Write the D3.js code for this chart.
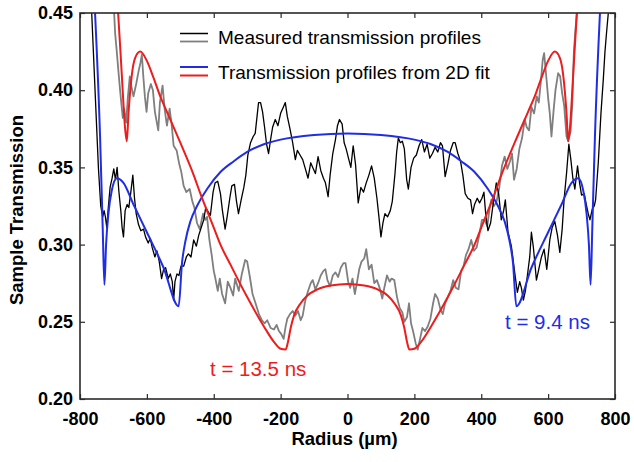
<!DOCTYPE html>
<html>
<head>
<meta charset="utf-8">
<script src="https://cdn.jsdelivr.net/npm/d3@7"></script>
<style>
  html, body { margin: 0; padding: 0; background: #fff; }
  svg { display: block; }
  text { font-family: "Liberation Sans", Arial, Helvetica, sans-serif; }
</style>
</head>
<body>
<svg id="chart" width="634" height="462"></svg>
<script>
// ---------------- DATA ----------------
const xTicks = [-800, -600, -400, -200, 0, 200, 400, 600, 800];
const yTicks = [0.20, 0.25, 0.30, 0.35, 0.40, 0.45];

// Fit, t = 13.5 ns (red)
const fitRedX = [-705,-686,-675,-665,-660,-655,-645,-635,-620,-600,-580,-560,-540,-500,-460,-440,-400,-380,-350,-300,-250,-220,-200,-185,-178,-170,-160,-140,-120,-90,-50,0,
                 50,90,120,140,160,170,178,185,200,220,250,300,350,380,400,440,460,500,540,560,580,600,620,635,645,655,660,665,675,686,705];
const fitRedY = [0.49,0.45,0.41,0.375,0.367,0.385,0.410,0.421,0.425,0.419,0.408,0.396,0.386,0.366,0.345,0.333,0.311,0.300,0.287,0.266,0.247,0.237,0.2325,0.232,0.237,0.246,0.254,0.262,0.267,0.271,0.2735,0.2745,
                 0.2735,0.271,0.267,0.262,0.254,0.246,0.237,0.232,0.2325,0.237,0.247,0.266,0.287,0.300,0.311,0.333,0.345,0.366,0.386,0.396,0.408,0.419,0.425,0.421,0.410,0.385,0.367,0.375,0.41,0.45,0.49];

// Fit, t = 9.4 ns (blue)
const fitBlueX = [-775,-755,-740,-732,-727,-722,-715,-705,-690,-670,-640,-600,-550,-505,-495,-485,-470,-450,-420,-380,-340,-300,-250,-200,-100,0,
                  100,200,250,300,340,380,420,450,470,485,495,505,550,600,640,670,690,705,715,722,727,732,740,755,775];
const fitBlueY = [0.52,0.45,0.37,0.31,0.274,0.30,0.320,0.335,0.343,0.340,0.326,0.308,0.285,0.260,0.288,0.302,0.315,0.325,0.336,0.347,0.354,0.360,0.365,0.368,0.371,0.372,
                  0.371,0.368,0.365,0.360,0.354,0.347,0.336,0.325,0.315,0.302,0.288,0.260,0.285,0.308,0.326,0.340,0.343,0.335,0.320,0.30,0.274,0.31,0.37,0.45,0.52];

// Measured profile, t = 13.5 ns (gray)
const measGrayX = [-700,-695,-690,-683,-678,-672,-668,-662,-657,-651,-646,-640,-632,-625,-619,-615,-611,-606,-601,-596,-588,-582,-576,-566,-561,-553,-547,-540,-532,-526,-520,-511,-503,-497,-490,-482,-472,-464,-458,-450,-442,-432,-425,-420,-413,-406,-400,-396,-388,-382,-375,-366,-358,-350,-342,-336,-325,-316,-306,-300,-292,-284,-275,-265,-256,-248,-240,-230,-220,-212,-205,-198,-191,-185,-180,-172,-164,-156,-148,-140,-134,-126,-118,-110,-104,-96,-88,-80,-72,-66,-60,-52,-44,-36,-28,-20,-12,-6,
                    2,8,15,22,28,35,42,50,56,64,72,80,88,96,104,110,118,126,132,140,148,156,164,170,178,184,190,196,204,210,216,224,232,240,248,256,262,270,278,285,292,300,308,316,324,332,340,347,354,362,370,378,386,394,402,410,418,424,430,438,446,454,462,470,478,486,492,498,506,514,522,530,536,543,550,558,566,572,578,584,588,594,600,605,610,616,622,630,636,642,648,655,660,667,672,677,682,688];
const measGrayY = [0.46,0.437,0.425,0.407,0.395,0.382,0.388,0.379,0.395,0.409,0.402,0.396,0.404,0.412,0.418,0.423,0.410,0.396,0.386,0.398,0.404,0.400,0.386,0.374,0.392,0.403,0.388,0.377,0.388,0.378,0.364,0.361,0.352,0.347,0.338,0.334,0.336,0.328,0.324,0.314,0.310,0.320,0.316,0.318,0.303,0.293,0.283,0.279,0.270,0.278,0.268,0.262,0.276,0.272,0.267,0.278,0.270,0.281,0.290,0.289,0.279,0.268,0.262,0.255,0.251,0.249,0.251,0.246,0.245,0.248,0.244,0.242,0.239,0.247,0.252,0.255,0.257,0.254,0.257,0.251,0.254,0.264,0.270,0.275,0.277,0.271,0.275,0.280,0.283,0.284,0.277,0.273,0.280,0.282,0.279,0.285,0.288,0.288,
                    0.276,0.272,0.278,0.268,0.275,0.284,0.289,0.291,0.297,0.284,0.287,0.275,0.277,0.272,0.265,0.272,0.280,0.276,0.278,0.277,0.266,0.259,0.256,0.250,0.253,0.262,0.249,0.244,0.236,0.232,0.238,0.246,0.244,0.247,0.252,0.262,0.268,0.265,0.258,0.255,0.262,0.266,0.270,0.277,0.272,0.271,0.283,0.286,0.293,0.297,0.303,0.296,0.298,0.306,0.316,0.316,0.312,0.322,0.329,0.325,0.328,0.337,0.351,0.357,0.349,0.354,0.359,0.342,0.349,0.362,0.369,0.381,0.376,0.374,0.389,0.385,0.396,0.392,0.405,0.420,0.424,0.410,0.395,0.385,0.370,0.386,0.400,0.411,0.409,0.398,0.390,0.370,0.367,0.373,0.390,0.425,0.440,0.455];

// Measured profile, t = 9.4 ns (black)
const measBlackX = [-775,-765,-755,-745,-738,-732,-728,-724,-720,-715,-710,-704,-699,-694,-689,-684,-678,-674,-670,-665,-659,-654,-648,-642,-637,-632,-625,-618,-610,-604,-596,-590,-584,-576,-570,-563,-556,-550,-544,-536,-530,-524,-520,-516,-510,-504,-498,-490,-482,-476,-468,-460,-452,-445,-436,-430,-424,-416,-410,-402,-396,-388,-380,-374,-366,-360,-352,-346,-338,-332,-326,-318,-310,-304,-298,-290,-282,-276,-270,-266,-260,-254,-248,-242,-236,-230,-224,-216,-208,-200,-192,-186,-180,-172,-164,-156,-150,-142,-134,-126,-118,-110,-104,-96,-88,-80,-72,-66,-58,-52,-44,-36,-30,-24,-16,-10,-4,
                     4,10,17,24,32,40,48,56,64,72,80,88,94,100,106,112,120,128,134,142,147,152,158,164,170,177,182,190,198,206,214,222,230,238,246,254,262,270,278,284,292,300,308,316,322,330,338,345,352,360,368,374,380,388,395,402,408,414,420,428,436,445,452,460,467,472,480,490,500,508,515,520,526,532,538,545,550,556,565,572,580,588,596,605,612,620,628,635,642,648,655,662,668,674,680,688,694,700,708,715,720,725,732,738,742,750,758,765,770,775,780,788];
const measBlackY = [0.48,0.45,0.40,0.350,0.325,0.318,0.322,0.318,0.311,0.325,0.337,0.343,0.349,0.342,0.350,0.335,0.322,0.311,0.305,0.322,0.326,0.324,0.334,0.345,0.330,0.320,0.313,0.309,0.310,0.305,0.301,0.304,0.298,0.292,0.296,0.289,0.278,0.284,0.285,0.278,0.281,0.276,0.264,0.276,0.281,0.280,0.286,0.286,0.292,0.294,0.292,0.303,0.299,0.306,0.312,0.316,0.324,0.321,0.319,0.334,0.340,0.341,0.333,0.322,0.310,0.318,0.330,0.338,0.339,0.328,0.320,0.329,0.337,0.345,0.358,0.366,0.370,0.372,0.384,0.392,0.392,0.386,0.376,0.365,0.359,0.368,0.376,0.381,0.377,0.385,0.389,0.392,0.383,0.375,0.366,0.355,0.361,0.358,0.355,0.349,0.343,0.353,0.350,0.346,0.357,0.348,0.343,0.340,0.331,0.345,0.359,0.368,0.377,0.381,0.378,0.366,0.362,
                     0.355,0.350,0.364,0.352,0.327,0.337,0.334,0.340,0.345,0.351,0.343,0.330,0.318,0.305,0.314,0.320,0.318,0.322,0.328,0.346,0.360,0.369,0.366,0.367,0.362,0.342,0.336,0.350,0.356,0.358,0.364,0.368,0.360,0.365,0.356,0.359,0.363,0.360,0.366,0.364,0.344,0.352,0.361,0.366,0.366,0.359,0.354,0.345,0.333,0.330,0.329,0.320,0.326,0.330,0.327,0.330,0.334,0.318,0.309,0.314,0.327,0.340,0.333,0.316,0.322,0.329,0.308,0.299,0.282,0.269,0.276,0.272,0.264,0.270,0.280,0.292,0.308,0.298,0.277,0.284,0.292,0.297,0.284,0.303,0.311,0.315,0.306,0.295,0.310,0.330,0.346,0.365,0.355,0.343,0.336,0.351,0.340,0.332,0.333,0.325,0.320,0.316,0.323,0.325,0.329,0.353,0.385,0.407,0.425,0.438,0.45,0.48];

const legendLabels = ["Measured transmission profiles", "Transmission profiles from 2D fit"];
const annotRed = "t = 13.5 ns";
const annotBlue = "t = 9.4 ns";

// ---------------- LAYOUT ----------------
const svg = d3.select("#chart");
const mLeft = 80, mRight = 615, mTop = 13, mBottom = 399;
const x = d3.scaleLinear().domain([-800, 800]).range([mLeft, mRight]);
const y = d3.scaleLinear().domain([0.20, 0.45]).range([mBottom, mTop]);

const colRed = "#ee1c1c", colBlue = "#1f2de6", colGray = "#7f7f7f", colBlack = "#000000", colFrame = "#2a2a2a";

svg.append("defs").append("clipPath").attr("id", "plotclip")
  .append("rect").attr("x", mLeft).attr("y", mTop).attr("width", mRight - mLeft).attr("height", mBottom - mTop);

const zip = (xs, ys) => xs.map((v, i) => [v, ys[i]]);
const lineLin = d3.line().x(d => x(d[0])).y(d => y(d[1]));
const lineSmooth = d3.line().x(d => x(d[0])).y(d => y(d[1])).curve(d3.curveMonotoneX);

const plot = svg.append("g").attr("clip-path", "url(#plotclip)");
plot.append("path").attr("d", lineLin(zip(measGrayX, measGrayY)))
  .attr("fill", "none").attr("stroke", colGray).attr("stroke-width", 1.8).attr("stroke-linejoin", "round");
plot.append("path").attr("d", lineLin(zip(measBlackX, measBlackY)))
  .attr("fill", "none").attr("stroke", colBlack).attr("stroke-width", 1.3).attr("stroke-linejoin", "round");
plot.append("path").attr("d", lineSmooth(zip(fitBlueX, fitBlueY)))
  .attr("fill", "none").attr("stroke", colBlue).attr("stroke-width", 2).attr("stroke-linejoin", "round");
plot.append("path").attr("d", lineSmooth(zip(fitRedX, fitRedY)))
  .attr("fill", "none").attr("stroke", colRed).attr("stroke-width", 2).attr("stroke-linejoin", "round");

// ---------------- AXES ----------------
const axB = svg.append("g").attr("transform", `translate(0,${mBottom})`)
  .call(d3.axisBottom(x).tickValues(xTicks).tickFormat(d => String(d)).tickSizeInner(-5).tickSizeOuter(0).tickPadding(13));
const axT = svg.append("g").attr("transform", `translate(0,${mTop})`)
  .call(d3.axisTop(x).tickValues(xTicks).tickFormat("").tickSizeInner(-5).tickSizeOuter(0));
const axL = svg.append("g").attr("transform", `translate(${mLeft},0)`)
  .call(d3.axisLeft(y).tickValues(yTicks).tickFormat(d3.format(".2f")).tickSizeInner(-5).tickSizeOuter(0).tickPadding(7));
const axR = svg.append("g").attr("transform", `translate(${mRight},0)`)
  .call(d3.axisRight(y).tickValues(yTicks).tickFormat("").tickSizeInner(-5).tickSizeOuter(0));

[axB, axT, axL, axR].forEach(g => {
  g.select(".domain").remove();
  g.selectAll(".tick line").attr("stroke", colFrame).attr("stroke-width", 1.2);
  g.selectAll(".tick text").attr("font-family", "Liberation Sans, Arial, sans-serif")
    .attr("font-size", 18).attr("font-weight", "bold").attr("fill", "#000");
});

svg.append("rect").attr("x", mLeft).attr("y", mTop).attr("width", mRight - mLeft).attr("height", mBottom - mTop)
  .attr("fill", "none").attr("stroke", colFrame).attr("stroke-width", 1.6);

// Axis titles
svg.append("text").attr("x", 344.5).attr("y", 445).attr("text-anchor", "middle")
  .attr("font-size", 18.5).attr("font-weight", "bold").text("Radius (µm)");
svg.append("text").attr("transform", `translate(23,210) rotate(-90)`).attr("text-anchor", "middle")
  .attr("font-size", 18.5).attr("font-weight", "bold").text("Sample Transmission");

// Legend
const lg = svg.append("g");
lg.append("line").attr("x1", 180).attr("x2", 208).attr("y1", 33.5).attr("y2", 33.5).attr("stroke", colBlack).attr("stroke-width", 1.5);
lg.append("line").attr("x1", 180).attr("x2", 208).attr("y1", 41.5).attr("y2", 41.5).attr("stroke", colGray).attr("stroke-width", 1.8);
lg.append("text").attr("x", 218).attr("y", 44).attr("font-size", 19).attr("fill", "#000").text(legendLabels[0]);
lg.append("line").attr("x1", 180).attr("x2", 208).attr("y1", 67).attr("y2", 67).attr("stroke", colBlue).attr("stroke-width", 2);
lg.append("line").attr("x1", 180).attr("x2", 208).attr("y1", 75.5).attr("y2", 75.5).attr("stroke", colRed).attr("stroke-width", 2);
lg.append("text").attr("x", 218).attr("y", 79).attr("font-size", 19).attr("fill", "#000").text(legendLabels[1]);

// Annotations
svg.append("text").attr("x", 210).attr("y", 376).attr("font-size", 20.5).attr("fill", colRed).text(annotRed);
svg.append("text").attr("x", 505).attr("y", 329).attr("font-size", 20.5).attr("fill", colBlue).text(annotBlue);
</script>
</body>
</html>
